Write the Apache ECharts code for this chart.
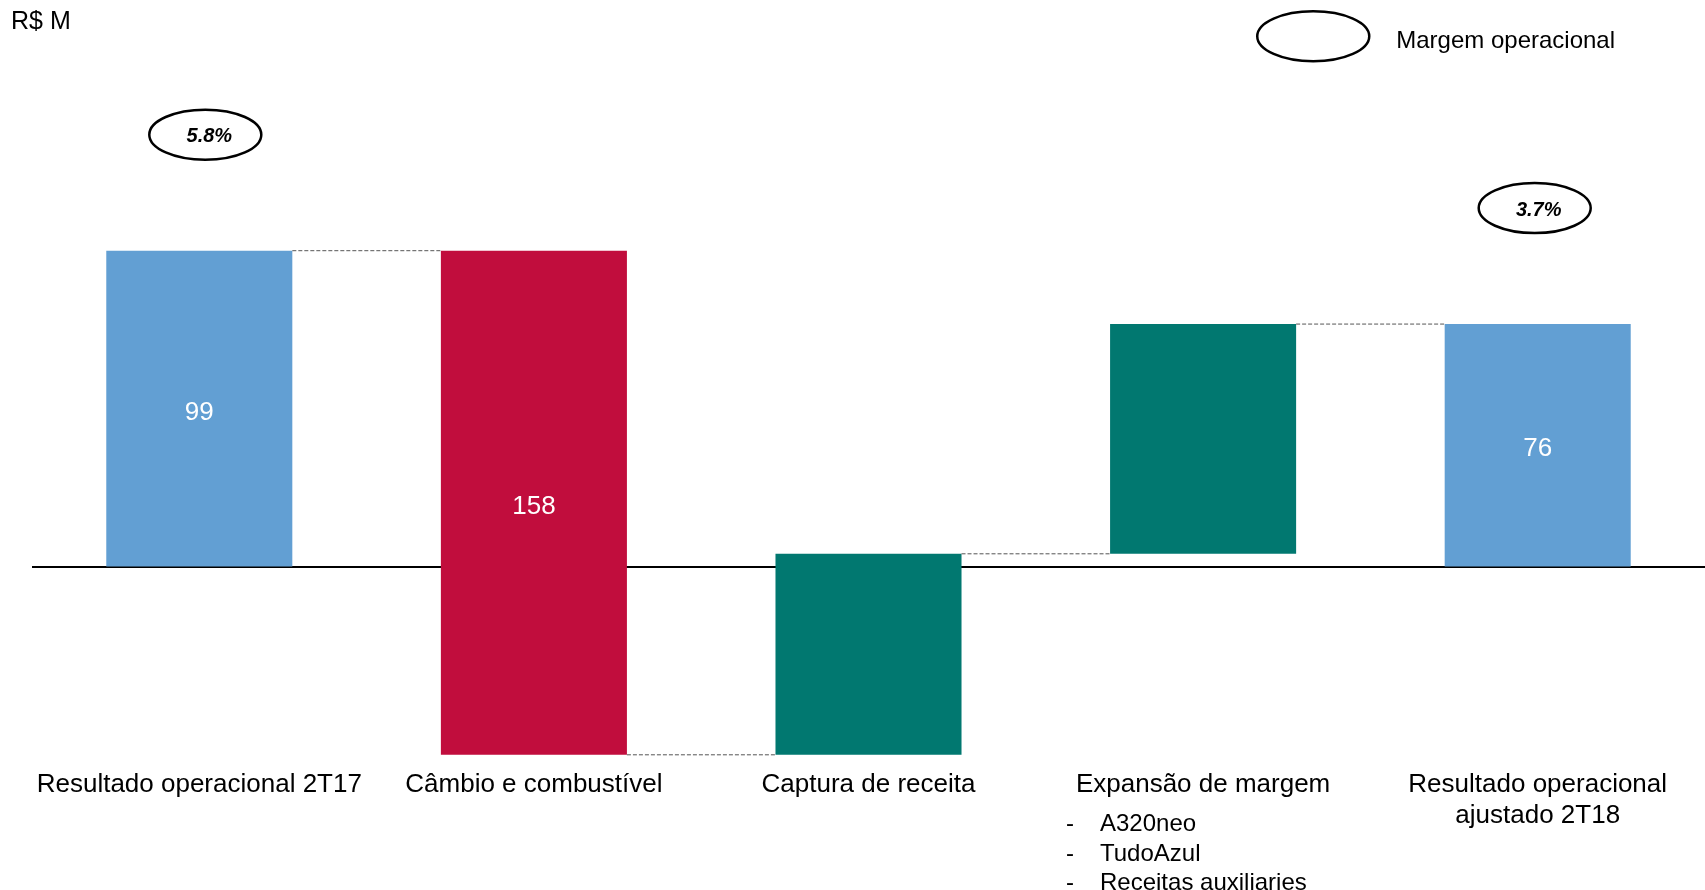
<!DOCTYPE html>
<html>
<head>
<meta charset="utf-8">
<script src="https://cdn.jsdelivr.net/npm/echarts@6/dist/echarts.min.js"></script>
<style>html,body{margin:0;padding:0;background:#fff}#c{width:1705px;height:890px}</style>
</head>
<body>
<div id="c"></div>
<script>
// ---- data ----
var categories = ['Resultado operacional 2T17', 'Câmbio e combustível', 'Captura de receita', 'Expansão de margem', 'Resultado operacional\najustado 2T18'];
var values = [99, -158, 63, 72, 76];
var isTotal = [true, false, false, false, true];
var valueLabels = ['99', '158', '', '', '76'];
var margins = ['5.8%', '', '', '', '3.7%'];
var subBullets = ['A320neo', 'TudoAzul', 'Receitas auxiliaries'];
var legendName = 'Margem operacional';
var unitLabel = 'R$ M';

// ---- colours / styling ----
var C_TOTAL = '#629FD3', C_NEG = '#C10D3D', C_POS = '#017870';
var FONT = '"Liberation Sans", Arial, sans-serif';
var ELLIPSE_DX = {0: 6, 4: -3};

// build waterfall ranges
var ranges = [];
var run = 0;
for (var i = 0; i < values.length; i++) {
  var s, e;
  if (isTotal[i]) { s = 0; e = values[i]; run = values[i]; }
  else { s = run; e = run + values[i]; run = e; }
  ranges.push([i, s, e]);
}
var marginData = [];
for (var j = 0; j < margins.length; j++) {
  if (margins[j]) marginData.push([j, Math.max(ranges[j][1], ranges[j][2]), margins[j]]);
}

var BAR_RATIO = 0.556;
var chart = echarts.init(document.getElementById('c'), null, {renderer: 'canvas'});
chart.setOption({
  animation: false,
  backgroundColor: '#fff',
  title: {text: unitLabel, left: 11, top: 10, padding: 0,
    textStyle: {fontFamily: FONT, fontSize: 25, fontWeight: 'normal', color: '#000'}},
  legend: {
    data: [legendName], left: 1256, top: 10, padding: 0,
    itemWidth: 112, itemHeight: 50,
    icon: 'path://M0,25 A56,25 0 1,1 112,25 A56,25 0 1,1 0,25 Z',
    itemStyle: {color: '#fff', borderColor: '#000', borderWidth: 2.5},
    formatter: function (n) { return '{t|' + n + '}'; },
    textStyle: {fontFamily: FONT, fontSize: 24, color: '#000', padding: [0, 0, 0, 22],
      rich: {t: {fontFamily: FONT, fontSize: 24, color: '#000', padding: [10, 0, 0, 0]}}},
    selectedMode: false
  },
  grid: {left: 32, right: 0, top: 247.5, bottom: 132},
  xAxis: {
    type: 'category', data: categories,
    axisLine: {show: false}, axisTick: {show: false}, splitLine: {show: false},
    axisLabel: {fontFamily: FONT, fontSize: 26, color: '#000', margin: 11, lineHeight: 31, interval: 0}
  },
  yAxis: {type: 'value', min: -60, max: 100, show: false, splitLine: {show: false}},
  series: [
    {
      type: 'custom', name: 'bars', z: 3,
      data: ranges,
      encode: {x: 0, y: [1, 2]},
      renderItem: function (params, api) {
        var idx = api.value(0);
        var s = api.value(1), e = api.value(2);
        var p0 = api.coord([idx, s]), p1 = api.coord([idx, e]);
        var half = api.size([1, 0])[0] * BAR_RATIO / 2;
        var cx = p0[0];
        var top = Math.min(p0[1], p1[1]), h = Math.abs(p1[1] - p0[1]);
        var color = isTotal[idx] ? C_TOTAL : (e < s ? C_NEG : C_POS);
        var children = [{
          type: 'rect', shape: {x: cx - half, y: top, width: half * 2, height: h},
          style: {fill: color}
        }];
        if (valueLabels[idx]) {
          children.push({type: 'text', style: {text: valueLabels[idx], x: cx, y: top + h / 2 + 4,
            align: 'center', verticalAlign: 'middle', fill: '#fff', font: '26px ' + FONT}});
        }
        if (idx < ranges.length - 1) {
          var pl = api.coord([idx, e]);
          var nx = api.coord([idx + 1, e]);
          children.push({type: 'line', shape: {x1: cx + half, y1: pl[1], x2: nx[0] - half, y2: pl[1]},
            style: {stroke: '#555', lineWidth: 1, lineDash: [4, 2]}});
        }
        return {type: 'group', children: children};
      },
      markLine: {
        z: 1, silent: true, symbol: 'none', label: {show: false},
        lineStyle: {color: '#000', width: 2, type: 'solid'},
        data: [{yAxis: 0}]
      }
    },
    {
      type: 'custom', name: legendName, z: 4,
      itemStyle: {color: '#fff', borderColor: '#000'},
      data: marginData,
      encode: {x: 0, y: 1},
      renderItem: function (params, api) {
        var idx = api.value(0);
        var p = api.coord([idx, api.value(1)]);
        var cx = p[0] + (ELLIPSE_DX[idx] || 0), cy = p[1] - 116;
        return {type: 'group', children: [
          {type: 'ellipse', shape: {cx: cx, cy: cy, rx: 56, ry: 25},
            style: {fill: '#fff', stroke: '#000', lineWidth: 2.5}},
          {type: 'text', style: {text: marginData[params.dataIndex][2], x: cx + 4, y: cy + 2,
            align: 'center', verticalAlign: 'middle', fill: '#000',
            font: 'italic bold 20px ' + FONT}}
        ]};
      }
    }
  ],
  graphic: [
    {type: 'text', left: 1066, top: 810, style: {text: subBullets.map(function(){return '-';}).join('\n'),
      font: '24px ' + FONT, fill: '#000', lineHeight: 29.5}},
    {type: 'text', left: 1100, top: 810, style: {text: subBullets.join('\n'),
      font: '24px ' + FONT, fill: '#000', lineHeight: 29.5}}
  ]
});
</script>
</body>
</html>
